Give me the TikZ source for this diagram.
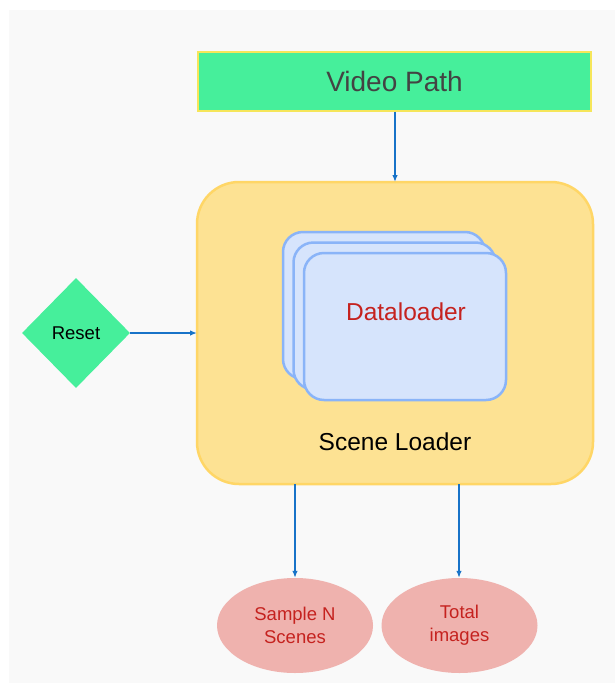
\documentclass[tikz,border=0pt]{standalone}
\usepackage{fontspec}
\setmainfont{Liberation Sans}
\usetikzlibrary{shapes.geometric,arrows.meta}
\definecolor{bggray}{RGB}{249,249,249}
\definecolor{mint}{RGB}{70,239,155}
\definecolor{mintborder}{RGB}{246,230,90}
\definecolor{darktext}{RGB}{67,67,67}
\definecolor{sandfill}{RGB}{253,226,147}
\definecolor{sandborder}{RGB}{255,214,102}
\definecolor{cardfill}{RGB}{214,228,252}
\definecolor{cardborder}{RGB}{138,180,248}
\definecolor{redtext}{RGB}{197,34,31}
\definecolor{pinkfill}{RGB}{239,178,174}
\definecolor{arrowblue}{RGB}{24,115,200}
\tikzset{
  inputbox/.style={draw=mintborder, line width=1.2pt, fill=mint, minimum width=393pt, minimum height=59pt, inner sep=0pt, text=darktext, font=\fontsize{28}{32}\selectfont},
  loaderbox/.style={draw=sandborder, line width=2.5pt, fill=sandfill, rounded corners=42pt, minimum width=396pt, minimum height=302pt, inner sep=0pt},
  card/.style={draw=cardborder, line width=2.5pt, fill=cardfill, rounded corners=20pt, minimum width=202pt, minimum height=147pt, inner sep=0pt},
  resetdiamond/.style={diamond, fill=mint, minimum width=108pt, minimum height=110pt, inner sep=0pt, font=\fontsize{18.5}{22}\selectfont},
  outoval/.style={ellipse, fill=pinkfill, minimum width=156pt, minimum height=95pt, inner sep=0pt, align=center, text=redtext, font=\fontsize{18.5}{23}\selectfont},
  flow/.style={draw=arrowblue, line width=1.3pt, -{Latex[length=7pt,width=5.5pt]}},
}
\begin{document}
\begin{tikzpicture}[x=1pt,y=-1pt]
\useasboundingbox (0,0) rectangle (615,683);
\fill[white] (0,0) rectangle (615,683);
\fill[bggray] (9,10) rectangle (615,683);

\node[inputbox] (video) at (394.5,81.5) {Video Path};
\node[loaderbox] (scene) at (395,333) {};
\node[card] (card1) at (384,305.5) {};
\node[card] (card2) at (394.5,316) {};
\node[card] (card3) at (405,326.5) {};
\node[text=redtext, font=\fontsize{24.5}{28}\selectfont] (dl) at (406,312) {Dataloader};
\node[font=\fontsize{24.5}{28}\selectfont] (sl) at (395,442) {Scene Loader};
\node[resetdiamond] (reset) at (76,333) {Reset};
\node[outoval] (sample) at (295,625.5) {Sample N\\Scenes};
\node[outoval] (total) at (459.5,625.5) {Total\\images};

\coordinate (vin) at (395,182);
\coordinate (rin) at (197,333);
\coordinate (sout1) at (295,484);
\coordinate (sout2) at (459,484);
\draw[flow] (video.south -| vin) -- (vin);
\draw[flow] (reset.east) -- (rin);
\draw[flow] (sout1) -- (sample.north);
\draw[flow] (sout2) -- (sout2 |- total.north);
\end{tikzpicture}
\end{document}
